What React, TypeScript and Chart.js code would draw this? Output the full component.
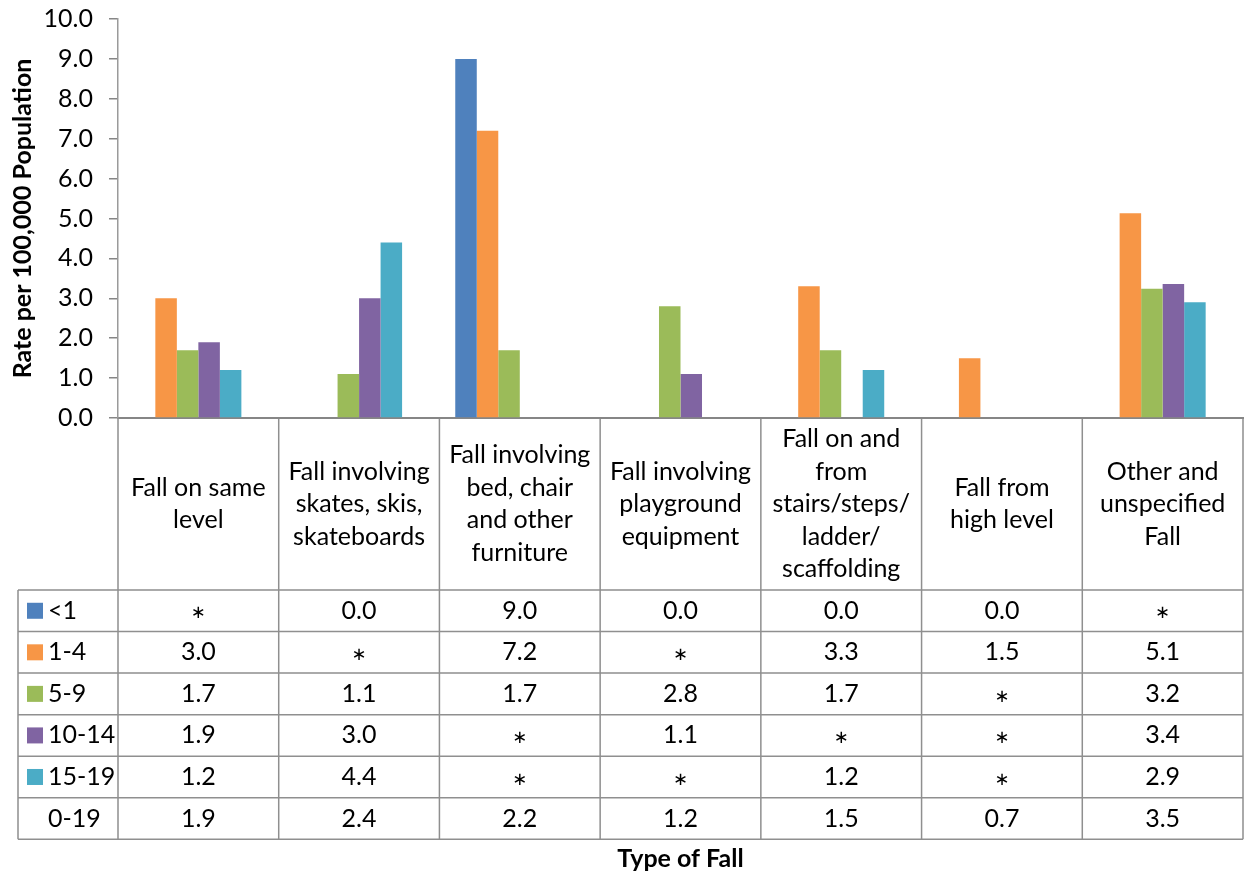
import React, { useEffect, useRef } from "react";
import { Chart, registerables } from "chart.js";

Chart.register(...registerables);

// ---- Data ----
const categories: string[][] = [
  ["Fall on same", "level"],
  ["Fall involving", "skates, skis,", "skateboards"],
  ["Fall involving", "bed, chair", "and other", "furniture"],
  ["Fall involving", "playground", "equipment"],
  ["Fall on and", "from", "stairs/steps/", "ladder/", "scaffolding"],
  ["Fall from", "high level"],
  ["Other and", "unspecified", "Fall"],
];

const seriesNames = ["<1", "1-4", "5-9", "10-14", "15-19", "0-19"];

const ageUnder1: (number | null)[] = [null, 0.0, 9.0, 0.0, 0.0, 0.0, null];
const age1to4: (number | null)[] = [3.0, null, 7.2, null, 3.3, 1.5, 5.13];
const age5to9: (number | null)[] = [1.7, 1.1, 1.7, 2.8, 1.7, null, 3.24];
const age10to14: (number | null)[] = [1.9, 3.0, null, 1.1, null, null, 3.36];
const age15to19: (number | null)[] = [1.2, 4.4, null, null, 1.2, null, 2.9];
const age0to19: (number | null)[] = [1.9, 2.4, 2.2, 1.2, 1.5, 0.7, 3.5];

const seriesValues = [ageUnder1, age1to4, age5to9, age10to14, age15to19, age0to19];
const seriesColors = ["#4F81BD", "#F79646", "#9BBB59", "#8064A2", "#4BACC6", "rgba(0,0,0,0)"];

const yMin = 0;
const yMax = 10;
const yStep = 1;

const yTitle = "Rate per 100,000 Population";
const xTitle = "Type of Fall";

const FONT = "Lato";
const FONT_SIZE = 25;

const tablePlugin = {
  id: "dataTable",
  afterDraw(chart: any) {
    const ctx: CanvasRenderingContext2D = chart.ctx;
    const xs = chart.scales.x;
    const area = chart.chartArea;
    const n = categories.length;
    const step = (xs.right - xs.left) / n;
    const bounds: number[] = [];
    for (let i = 0; i < n; i++) bounds.push(xs.getPixelForValue(i) - step / 2);
    bounds.push(xs.getPixelForValue(n - 1) + step / 2);

    const headerTop = area.bottom;
    const headerBottom = headerTop + 172;
    const rowH = 41.55;
    const tableLeft = 18;
    const tableRight = bounds[n];
    const rows = seriesNames.length;
    const tableBottom = headerBottom + rows * rowH;

    ctx.save();
    ctx.strokeStyle = "#8f8f8f";
    ctx.lineWidth = 1.5;
    ctx.beginPath();
    for (let i = 0; i <= n; i++) {
      ctx.moveTo(bounds[i], headerTop + 1);
      ctx.lineTo(bounds[i], tableBottom);
    }
    ctx.moveTo(tableLeft, headerBottom);
    ctx.lineTo(tableLeft, tableBottom);
    for (let r = 0; r <= rows; r++) {
      const y = headerBottom + r * rowH;
      ctx.moveTo(tableLeft, y);
      ctx.lineTo(tableRight, y);
    }
    ctx.stroke();

    ctx.fillStyle = "#000";
    ctx.font = `${FONT_SIZE}px ${FONT}`;
    ctx.textAlign = "center";
    ctx.textBaseline = "middle";
    const lineGap = 32.5;
    const hc = (headerTop + headerBottom) / 2;
    categories.forEach((lines, i) => {
      const cx = xs.getPixelForValue(i);
      const y0 = hc - ((lines.length - 1) * lineGap) / 2;
      lines.forEach((ln, j) => ctx.fillText(ln, cx, y0 + j * lineGap));
    });

    seriesNames.forEach((name, r) => {
      const cy = headerBottom + r * rowH + rowH / 2;
      if (r < 5) {
        ctx.fillStyle = seriesColors[r];
        ctx.fillRect(27, cy - 8, 16, 16);
      }
      ctx.fillStyle = "#000";
      ctx.textAlign = "left";
      ctx.font = `${FONT_SIZE}px ${FONT}`;
      ctx.fillText(name, 48, cy);
      ctx.textAlign = "center";
      seriesValues[r].forEach((v, i) => {
        const cx = xs.getPixelForValue(i);
        if (v === null) {
          ctx.font = `18px "DejaVu Sans"`;
          ctx.fillText("\u2217", cx, cy + 3);
          ctx.font = `${FONT_SIZE}px ${FONT}`;
        } else {
          ctx.fillText(v.toFixed(1), cx, cy);
        }
      });
    });

    ctx.font = `bold ${FONT_SIZE}px ${FONT}`;
    ctx.textAlign = "center";
    ctx.fillText(xTitle, (area.left + area.right) / 2, tableBottom + 20);
    ctx.restore();
  },
};

export default function App() {
  const canvasRef = useRef<HTMLCanvasElement | null>(null);

  useEffect(() => {
    document.body.style.margin = "0";
    const canvas = canvasRef.current;
    if (!canvas) return;
    const chart = new Chart(canvas, {
      type: "bar",
      data: {
        labels: categories,
        datasets: seriesNames.map((name, i) => ({
          label: name,
          data: seriesValues[i],
          backgroundColor: seriesColors[i],
          borderWidth: 0,
          categoryPercentage: 0.803,
          barPercentage: 1.0,
        })),
      },
      plugins: [tablePlugin],
      options: {
        responsive: true,
        maintainAspectRatio: false,
        animation: false,
        layout: { padding: { left: 0, top: 19, right: 5, bottom: 876 - 418 } },
        plugins: {
          legend: { display: false },
          tooltip: { enabled: false },
          title: { display: false },
        },
        scales: {
          x: {
            ticks: { display: false },
            grid: { display: false },
            border: { display: true, color: "#868686", width: 2 },
            afterFit: (s: any) => {
              s.height = 0;
              s.paddingLeft = 0;
              s.paddingRight = 0;
            },
          },
          y: {
            min: yMin,
            max: yMax,
            ticks: {
              stepSize: yStep,
              padding: 16,
              color: "#000",
              font: { family: FONT, size: FONT_SIZE },
              callback: (v: any) => Number(v).toFixed(1),
            },
            grid: {
              display: true,
              drawOnChartArea: false,
              drawTicks: true,
              tickLength: 9,
              color: "#868686",
              lineWidth: 1.5,
            },
            border: { display: true, color: "#9a9a9a", width: 1.5 },
            title: {
              display: true,
              text: yTitle,
              color: "#000",
              font: { family: FONT, size: FONT_SIZE, weight: "bold" },
              padding: { top: 8, bottom: 0 },
            },
            afterFit: (s: any) => {
              s.width = 118;
              s.paddingTop = 0;
              s.paddingBottom = 0;
            },
          },
        },
      },
    });
    return () => chart.destroy();
  }, []);

  return (
    <div style={{ position: "relative", width: 1248, height: 876 }}>
      <canvas ref={canvasRef} />
    </div>
  );
}
